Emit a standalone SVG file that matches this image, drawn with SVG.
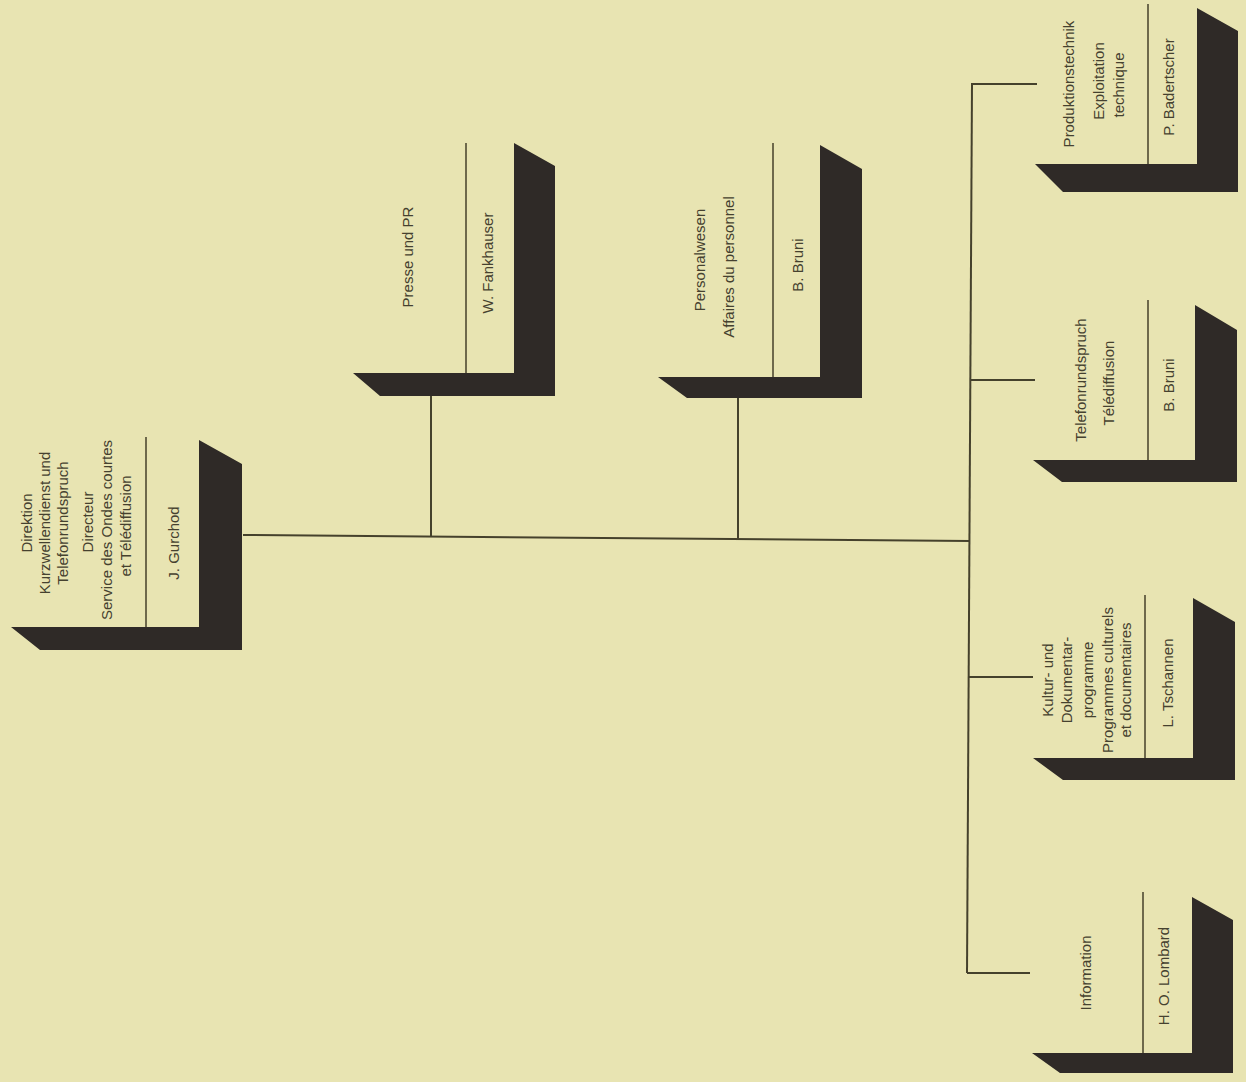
<svg xmlns="http://www.w3.org/2000/svg" width="1246" height="1082" viewBox="0 0 1246 1082">
<style>
.bg{fill:#e8e4b2}
.sh{fill:#2f2a27}
.dv{stroke:#4f4a33;stroke-width:1.6;fill:none}
.cn{stroke:#45412c;stroke-width:2;fill:none}
text{font-family:"Liberation Sans",Arial,sans-serif;font-size:15px;fill:#45412f;text-anchor:middle;dominant-baseline:central}
</style>
<rect class="bg" x="0" y="0" width="1246" height="1082"/>
<g id="connectors">
<line class="cn" x1="243" y1="535" x2="970" y2="541"/>
<line class="cn" x1="431" y1="395" x2="431" y2="537"/>
<line class="cn" x1="738" y1="397" x2="738" y2="540"/>
<line class="cn" x1="972" y1="84" x2="967" y2="973"/>
<line class="cn" x1="971" y1="84" x2="1037" y2="84"/>
<line class="cn" x1="971" y1="380" x2="1035" y2="380"/>
<line class="cn" x1="969" y1="677" x2="1033" y2="677"/>
<line class="cn" x1="967" y1="973" x2="1030" y2="973"/>
</g>
<g id="direktion">
<polygon class="sh" points="199,440 242,464 242,650 40,650 11,627 199,627"/>
<line class="dv" x1="146" y1="437" x2="146" y2="627"/>
<text transform="translate(26,523) rotate(-90)">Direktion</text>
<text transform="translate(44,523) rotate(-90)">Kurzwellendienst und</text>
<text transform="translate(62,523) rotate(-90)">Telefonrundspruch</text>
<text transform="translate(87,522) rotate(-90)">Directeur</text>
<text transform="translate(106,530) rotate(-90)">Service des Ondes courtes</text>
<text transform="translate(125,526) rotate(-90)">et Télédiffusion</text>
<text transform="translate(173,543) rotate(-90)">J. Gurchod</text>
</g>
<g id="presse">
<polygon class="sh" points="514,143 555,166 555,396 380,396 353,373 514,373"/>
<line class="dv" x1="466" y1="143" x2="466" y2="373"/>
<text transform="translate(407,257) rotate(-90)">Presse und PR</text>
<text transform="translate(487,263) rotate(-90)">W. Fankhauser</text>
</g>
<g id="personal">
<polygon class="sh" points="820,145 862,169 862,398 687,398 658,377 820,377"/>
<line class="dv" x1="773" y1="143" x2="773" y2="377"/>
<text transform="translate(699,260) rotate(-90)">Personalwesen</text>
<text transform="translate(728,267) rotate(-90)">Affaires du personnel</text>
<text transform="translate(797,265) rotate(-90)">B. Bruni</text>
</g>
<g id="produktion">
<polygon class="sh" points="1197,8 1238,31 1238,192 1063,192 1035,164 1197,164"/>
<line class="dv" x1="1148" y1="4" x2="1148" y2="164"/>
<text transform="translate(1068,84) rotate(-90)">Produktionstechnik</text>
<text transform="translate(1098,81) rotate(-90)">Exploitation</text>
<text transform="translate(1118,85) rotate(-90)">technique</text>
<text transform="translate(1168,87) rotate(-90)">P. Badertscher</text>
</g>
<g id="telefon">
<polygon class="sh" points="1195,305 1237,330 1237,482 1062,482 1033,460 1195,460"/>
<line class="dv" x1="1148" y1="300" x2="1148" y2="460"/>
<text transform="translate(1080,380) rotate(-90)">Telefonrundspruch</text>
<text transform="translate(1108,383) rotate(-90)">Télédiffusion</text>
<text transform="translate(1168,385) rotate(-90)">B. Bruni</text>
</g>
<g id="kultur">
<polygon class="sh" points="1193,598 1235,622 1235,780 1063,780 1033,758 1193,758"/>
<line class="dv" x1="1145" y1="595" x2="1145" y2="758"/>
<text transform="translate(1047,680) rotate(-90)">Kultur- und</text>
<text transform="translate(1066,680) rotate(-90)">Dokumentar-</text>
<text transform="translate(1087,680) rotate(-90)">programme</text>
<text transform="translate(1107,680) rotate(-90)">Programmes culturels</text>
<text transform="translate(1125,680) rotate(-90)">et documentaires</text>
<text transform="translate(1167,683) rotate(-90)">L. Tschannen</text>
</g>
<g id="information">
<polygon class="sh" points="1192,897 1233,920 1233,1073 1060,1073 1032,1053 1192,1053"/>
<line class="dv" x1="1143" y1="892" x2="1143" y2="1053"/>
<text transform="translate(1085,973) rotate(-90)">Information</text>
<text transform="translate(1163,976) rotate(-90)">H. O. Lombard</text>
</g>
</svg>
